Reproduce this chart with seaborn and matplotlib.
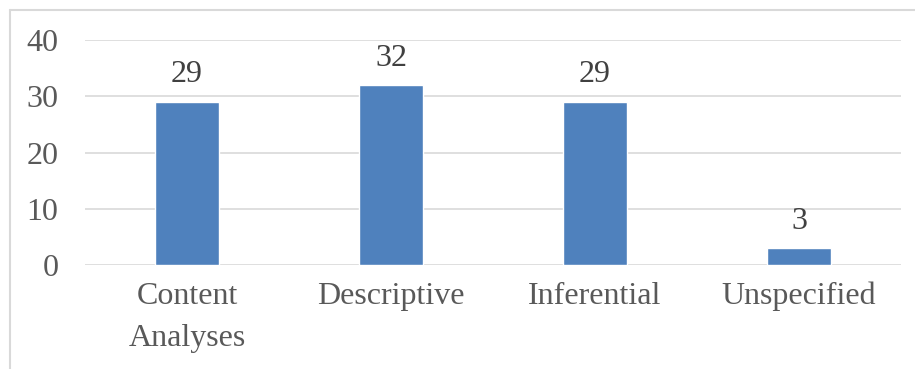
import numpy as np
import pandas as pd
import matplotlib.pyplot as plt
import seaborn as sns
from matplotlib.lines import Line2D

categories = ["Content\nAnalyses", "Descriptive", "Inferential", "Unspecified"]
counts = [29, 32, 29, 3]
yticks = [0, 10, 20, 30, 40]

df = pd.DataFrame({"category": categories, "count": counts})

sns.set_style("white")
plt.rcParams['font.family'] = ['Liberation Serif', 'DejaVu Serif']

text_color = "#595959"
grid_color = "#d9d9d9"

fig = plt.figure(figsize=(9.15, 3.69), dpi=100)
ax = fig.add_axes([85 / 915, (369 - 265) / 369, 816 / 915, 225 / 369])

sns.barplot(data=df, x="category", y="count", color="#4f81bd", width=0.31,
            saturation=1, ax=ax, zorder=3)

# data labels above each bar
for i, v in enumerate(counts):
    ax.annotate(str(v), (i, v), xytext=(0, 9), textcoords="offset points",
                ha="center", va="bottom", fontsize=23, color="#404040")

ax.set_ylim(0, 40)
ax.set_yticks(yticks)
ax.yaxis.grid(True, color=grid_color, linewidth=1.2, zorder=0)
ax.set_axisbelow(True)
for s in ax.spines.values():
    s.set_visible(False)
ax.tick_params(axis="both", length=0, labelsize=23, labelcolor=text_color)
ax.tick_params(axis="y", pad=19)
ax.tick_params(axis="x", pad=12)
ax.set_xticks(range(len(categories)))
ax.set_xticklabels(categories, linespacing=1.6)
ax.set_xlabel("")
ax.set_ylabel("")

# outer chart frame (only top and left edges show in the original)
fx, fy = 9.5 / 915, 1 - 9.5 / 369
fig.add_artist(Line2D([fx, fx], [0, fy], transform=fig.transFigure,
                      color=grid_color, linewidth=1.5))
fig.add_artist(Line2D([fx, 1], [fy, fy], transform=fig.transFigure,
                      color=grid_color, linewidth=1.5))

plt.savefig("out.png", dpi=100)
